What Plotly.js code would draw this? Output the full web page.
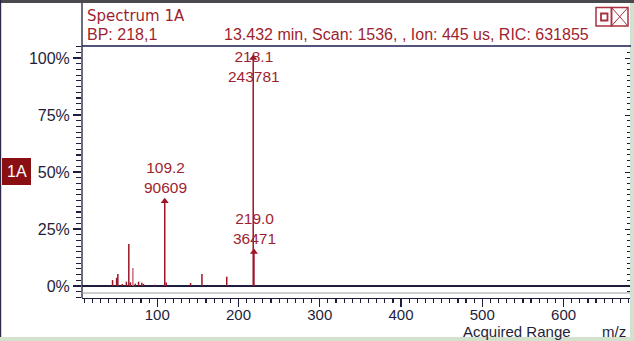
<!DOCTYPE html>
<html>
<head>
<meta charset="utf-8">
<script src="https://cdn.plot.ly/plotly-3.0.1.min.js"></script>
<style>html,body{margin:0;padding:0;background:#fff;overflow:hidden}#chart{width:634px;height:341px}</style>
</head>
<body>
<div id="chart"></div>
<script>
// ---- data ----
const peakMz  = [45, 50, 51.5, 57, 62, 65, 67, 73, 77, 81, 83, 97, 111, 141, 155, 185.5];
const peakPct = [2.6, 3.6, 5.3, 0.9, 1.9, 18.4, 1.6, 1.0, 1.9, 1.4, 0.9, 0.5, 1.5, 1.3, 5.3, 4.1];
const pinkMz  = [70];
const pinkPct = [7.9];
const labelMz     = [109.2, 218.1, 219.0];
const labelCounts = [90609, 243781, 36471];
const yTickVals  = [0, 25, 50, 75, 100];
const yTickText  = ['0%', '25%', '50%', '75%', '100%'];
const xTickVals  = [100, 200, 300, 400, 500, 600];
const xTickText  = ['100', '200', '300', '400', '500', '600'];
const titleText  = "Spectrum 1A";
const bpText     = "BP: 218,1";
const infoText   = "13.432 min, Scan: 1536, , Ion: 445 us, RIC: 631855";
const sideLabel  = "1A";
const xTitle     = "Acquired Range";
const xUnit      = "m/z";

// ---- geometry ----
const W = 634, H = 341;
const L = 82, R = 3, T = 46, B = 43;
const PW = W - L - R, PH = H - T - B;
const px = x => (x - L) / PW;
const py = y => (H - B - y) / PH;

const basePeak = Math.max(...labelCounts);
const labelPct = labelCounts.map(c => c / basePeak * 100);

function sticks(xs, ys) {
  const X = [], Y = [];
  xs.forEach((m, i) => { X.push(m, m, null); Y.push(0, ys[i], null); });
  return {X, Y};
}
const RED = '#9b1626', PINK = '#d06a80', TXT = '#9e1f30', AX = '#1e1e3c';

const s1 = sticks(peakMz, peakPct);
const s2 = sticks(pinkMz, pinkPct);
const s3 = sticks(labelMz, labelPct);

const traces = [
  {x: s1.X, y: s1.Y, mode: 'lines', line: {color: RED, width: 1.5}, hoverinfo: 'skip'},
  {x: s2.X, y: s2.Y, mode: 'lines', line: {color: PINK, width: 1.5}, hoverinfo: 'skip'},
  {x: s3.X, y: s3.Y, mode: 'lines', line: {color: RED, width: 1.5}, hoverinfo: 'skip'},
  {x: labelMz, y: labelPct, mode: 'markers', marker: {symbol: 'triangle-up', size: 7, color: RED}, hoverinfo: 'skip'},
  {x: [xTickVals[0]], y: [0], yaxis: 'y2', mode: 'markers', marker: {opacity: 0}, hoverinfo: 'skip'}
];

const FONT = 'Liberation Sans, Arial, sans-serif';
const WIDE = 'DejaVu Sans, sans-serif';
const annotations = [];
labelMz.forEach((m, i) => {
  const txt = m.toFixed(1) + '<br>' + labelCounts[i];
  if (labelPct[i] > 85) {
    annotations.push({x: m, xref: 'x', y: 1, yref: 'paper', yanchor: 'top', text: txt, showarrow: false,
      font: {family: FONT, size: 15.5, color: TXT}, xshift: 1});
  } else {
    annotations.push({x: m, xref: 'x', y: labelPct[i], yref: 'y', yanchor: 'bottom', yshift: 3, text: txt, showarrow: false,
      font: {family: FONT, size: 15.5, color: TXT}, xshift: 1});
  }
});
annotations.push(
  {x: px(85), y: py(16), xref: 'paper', yref: 'paper', xanchor: 'left', yanchor: 'middle', text: titleText, showarrow: false, font: {family: WIDE, size: 15, color: TXT}},
  {x: px(85), y: py(35), xref: 'paper', yref: 'paper', xanchor: 'left', yanchor: 'middle', text: bpText, showarrow: false, font: {family: FONT, size: 16, color: TXT}},
  {x: px(222), y: py(35), xref: 'paper', yref: 'paper', xanchor: 'left', yanchor: 'middle', text: infoText, showarrow: false, font: {family: FONT, size: 16, color: TXT}},
  {x: px(16.5), y: py(171.5), xref: 'paper', yref: 'paper', xanchor: 'center', yanchor: 'middle', text: sideLabel, showarrow: false, font: {family: FONT, size: 16, color: '#ffffff'}},
  {x: px(517), y: py(331), xref: 'paper', yref: 'paper', xanchor: 'center', yanchor: 'middle', text: xTitle, showarrow: false, borderpad: 0, font: {family: FONT, size: 15, color: AX}},
  {x: px(614), y: py(331), xref: 'paper', yref: 'paper', xanchor: 'center', yanchor: 'middle', text: xUnit, showarrow: false, borderpad: 0, font: {family: FONT, size: 15, color: AX}}
);

const BTN = '#a8303f';
const rectP = (x0, y0, x1, y1, o) => Object.assign({type: 'rect', xref: 'paper', yref: 'paper', x0: px(x0), x1: px(x1), y0: py(y1), y1: py(y0)}, o);
const lineP = (x0, y0, x1, y1, o) => Object.assign({type: 'line', xref: 'paper', yref: 'paper', x0: px(x0), x1: px(x1), y0: py(y0), y1: py(y1)}, o);
const shapes = [
  rectP(0, 0, 634, 3, {fillcolor: '#4a4a4e', line: {width: 0}}),
  rectP(0, 0, 1.2, 341, {fillcolor: '#2a2a48', line: {width: 0}}),
  rectP(630, 3, 634, 341, {fillcolor: '#d3dfd0', line: {width: 0}}),
  rectP(0, 337, 634, 341, {fillcolor: '#d3e2cc', line: {width: 0}}),
  lineP(82, 3, 82, 298, {line: {color: AX, width: 1.3}}),
  lineP(82, 46, 631, 46, {line: {color: '#1a1a50', width: 1.5}}),
  lineP(82, 293, 630, 293, {line: {color: '#9a9aa4', width: 1}}),
  rectP(2, 158, 31, 185, {fillcolor: '#8a0f12', line: {width: 0}}),
  rectP(596, 7.5, 611.5, 26, {line: {color: BTN, width: 1.5}}),
  rectP(611.5, 7.5, 628, 26, {line: {color: BTN, width: 1.5}}),
  rectP(601, 13.5, 607.5, 20.5, {line: {color: BTN, width: 1.8}}),
  lineP(612, 8, 627.5, 25.5, {line: {color: BTN, width: 1}}),
  lineP(627.5, 8, 612, 25.5, {line: {color: BTN, width: 1}})
];

const yr = [-12 / 2.28, 100 + 12 / 2.28];
const xr = [350 + (L - 360.4) / 0.8126, 350 + (W - R - 360.4) / 0.8126];

const layout = {
  width: W, height: H,
  margin: {l: L, r: R, t: T, b: B, pad: 0},
  paper_bgcolor: '#ffffff', plot_bgcolor: '#ffffff',
  showlegend: false,
  font: {family: FONT, size: 16, color: AX},
  xaxis: {range: xr, showgrid: false, zeroline: false, showline: true, linecolor: AX, linewidth: 1.3,
    tickmode: 'array', tickvals: xTickVals, ticktext: xTickText, ticks: 'outside', ticklen: 8, tickcolor: AX, tickwidth: 1.3,
    ticklabelstandoff: -5,
    minor: {dtick: 10, tick0: 0, ticks: 'outside', ticklen: 4, tickcolor: AX, tickwidth: 1.2},
    tickfont: {family: FONT, size: 15, color: AX}, fixedrange: true},
  yaxis: {range: yr, showgrid: false, zeroline: true, zerolinecolor: AX, zerolinewidth: 1.5, showline: false,
    tickmode: 'array', tickvals: yTickVals, ticktext: yTickText, ticks: 'outside', ticklen: 8, tickcolor: AX, tickwidth: 1.3,
    minor: {dtick: 2.5, tick0: 0, ticks: 'outside', ticklen: 5, tickcolor: AX, tickwidth: 1.2},
    tickfont: {family: FONT, size: 16, color: AX}, fixedrange: true},
  yaxis2: {range: yr, overlaying: 'y', side: 'right', showgrid: false, zeroline: false, showline: true, linecolor: AX, linewidth: 1.3,
    showticklabels: false, tickmode: 'array', tickvals: yTickVals, ticks: 'inside', ticklen: 6, tickcolor: AX,
    minor: {dtick: 2.5, tick0: 0, ticks: 'inside', ticklen: 4, tickcolor: AX}, fixedrange: true},
  shapes: shapes,
  annotations: annotations
};

Plotly.newPlot('chart', traces, layout, {displayModeBar: false, staticPlot: true});
</script>
</body>
</html>
